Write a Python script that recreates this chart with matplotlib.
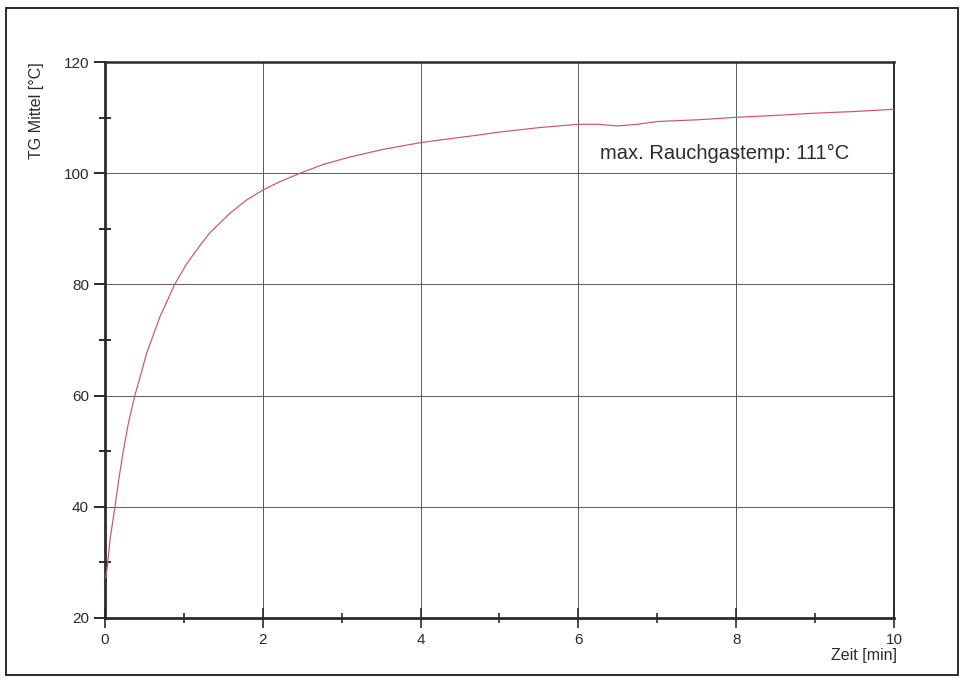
import matplotlib
matplotlib.use("Agg")
import matplotlib.pyplot as plt
from matplotlib.patches import Rectangle
from matplotlib.ticker import MultipleLocator

# values (time in min, temperature in °C)
zeit = [0.0, 0.01, 0.03, 0.063, 0.127, 0.18, 0.232, 0.296, 0.38, 0.435, 0.528,
        0.697, 0.887, 1.035, 1.204, 1.33, 1.584, 1.796, 2.006, 2.218, 2.51,
        2.77, 3.1, 3.53, 4.0, 4.37, 4.75, 5.0, 5.5, 6.0, 6.25, 6.5, 6.75,
        7.0, 7.5, 8.0, 8.5, 9.0, 9.5, 10.0]
tg_mittel = [27.2, 27.4, 29.2, 34.0, 40.1, 45.4, 50.0, 55.0, 60.1, 62.8, 67.6,
             74.2, 80.1, 83.7, 87.0, 89.3, 92.8, 95.2, 97.0, 98.5, 100.2,
             101.6, 102.9, 104.3, 105.5, 106.2, 106.9, 107.4, 108.2, 108.8, 108.8,
             108.5, 108.8, 109.3, 109.6, 110.05, 110.4, 110.8, 111.1, 111.5]

x_ticks = [0, 2, 4, 6, 8, 10]
y_ticks = [20, 40, 60, 80, 100, 120]
x_label = "Zeit [min]"
y_label = "TG Mittel [°C]"
note = "max. Rauchgastemp: 111°C"

INK = "#2b2b2b"
GRID = "#5a5a5a"
CURVE = "#d2506e"

plt.rcParams["font.family"] = ["Liberation Sans", "DejaVu Sans"]

fig = plt.figure(figsize=(9.65, 6.83), dpi=100)
fig.patch.set_facecolor("white")
fig.patches.append(Rectangle((0.006, 0.012), 0.987, 0.976, transform=fig.transFigure,
                             fill=False, edgecolor=INK, linewidth=1.4))

ax = fig.add_axes([0.1088, 0.0952, 0.8176, 0.814])
ax.plot(zeit, tg_mittel, color=CURVE, linewidth=0.85, zorder=3)

ax.set_xlim(0, 10)
ax.set_ylim(20, 120)
ax.set_xticks(x_ticks)
ax.set_yticks(y_ticks)
ax.xaxis.set_minor_locator(MultipleLocator(1))
ax.yaxis.set_minor_locator(MultipleLocator(10))
ax.grid(True, which="major", color=GRID, linewidth=0.7)
ax.set_axisbelow(True)

ax.tick_params(axis="x", which="major", direction="inout", length=14, width=1.2,
               color=INK, labelsize=11, labelcolor=INK, pad=4)
ax.tick_params(axis="x", which="minor", direction="inout", length=7, width=1.2, color=INK)
ax.tick_params(axis="y", which="major", direction="out", length=8, width=1.4,
               color=INK, labelsize=11, labelcolor=INK, pad=3.5)
ax.tick_params(axis="y", which="minor", direction="inout", length=8, width=1.4, color=INK)

for side, lw in [("left", 2.0), ("bottom", 2.0), ("top", 1.8), ("right", 1.4)]:
    ax.spines[side].set_linewidth(lw)
    ax.spines[side].set_color(INK)

ax.text(10.04, 13.2, x_label, ha="right", va="center", fontsize=11.5, color=INK)
fig.text(0.038, 0.909, y_label, rotation=90, ha="center", va="top", fontsize=11.5, color=INK)
ax.text(6.27, 103.6, note, ha="left", va="center", fontsize=14.5, color=INK)

fig.savefig("out.png", dpi=100, facecolor="white")
